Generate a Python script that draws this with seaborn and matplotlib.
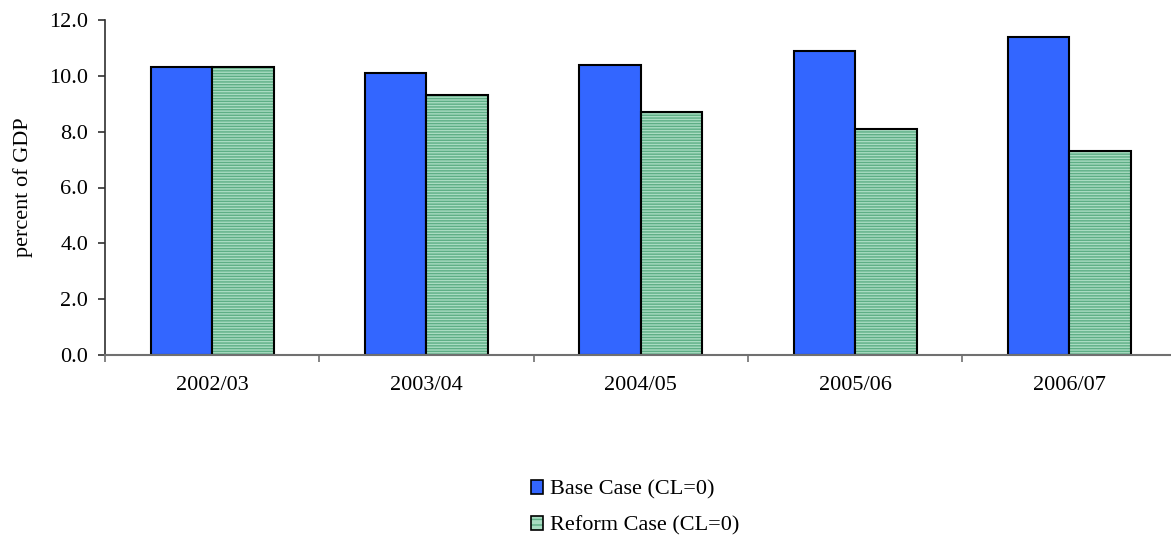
import matplotlib
matplotlib.use("Agg")
import matplotlib.pyplot as plt
import seaborn as sns
import pandas as pd
from matplotlib.patches import Patch, Rectangle
from matplotlib.legend_handler import HandlerTuple
from matplotlib.ticker import FixedLocator

# Data
years = ["2002/03", "2003/04", "2004/05", "2005/06", "2006/07"]
base_case = [10.3, 10.1, 10.4, 10.9, 11.4]
reform_case = [10.3, 9.3, 8.7, 8.1, 7.3]
series_names = ["Base Case (CL=0)", "Reform Case (CL=0)"]
y_ticks = [0, 2, 4, 6, 8, 10, 12]

BLUE = "#3366FF"
GREEN_FILL = "#a9dcc2"
GREEN_LINE = "#5dae85"

sns.set_theme(style="white")
plt.rcParams["font.family"] = ["Liberation Serif", "DejaVu Serif"]
plt.rcParams["hatch.linewidth"] = 1.0
plt.rcParams["text.color"] = "black"
plt.rcParams["axes.labelcolor"] = "black"
plt.rcParams["xtick.color"] = "black"
plt.rcParams["ytick.color"] = "black"

df = pd.DataFrame({
    "year": years * 2,
    "value": base_case + reform_case,
    "series": [series_names[0]] * len(years) + [series_names[1]] * len(years),
})

fig = plt.figure(figsize=(11.71, 5.38), dpi=100)
ax = fig.add_axes([105 / 1171, 1 - 355 / 538, 1071.5 / 1171, 335 / 538])

sns.barplot(data=df, x="year", y="value", hue="series", order=years,
            hue_order=series_names, palette=[BLUE, GREEN_FILL], saturation=1,
            width=0.574, gap=0, edgecolor="black", linewidth=1.5,
            legend=False, ax=ax)

# Reform bars: fine green horizontal lines, then a black outline on top
for bar in ax.containers[1]:
    bar.set_hatch("------")
    bar.set_edgecolor(GREEN_LINE)
    bar.set_linewidth(0)
    ax.add_patch(Rectangle(bar.get_xy(), bar.get_width(), bar.get_height(),
                           fill=False, edgecolor="black", linewidth=1.5,
                           zorder=bar.get_zorder() + 0.1))

ax.set_xlim(-0.5, len(years) - 0.5)
ax.set_ylim(0, 12)
ax.set_yticks(y_ticks)
ax.set_yticklabels([f"{v:.1f}" for v in y_ticks])
ax.set_xlabel("")
ax.set_ylabel("percent of GDP", fontsize=16, labelpad=12, color="black")

# Category separators as outward ticks on the x axis
ax.xaxis.set_minor_locator(FixedLocator([i - 0.5 for i in range(len(years) + 1)]))
ax.tick_params(axis="x", which="major", length=0, pad=15, labelsize=16,
               labelcolor="black")
ax.tick_params(axis="x", which="minor", bottom=True, length=5, width=1.2,
               color="#707070", direction="out")
ax.tick_params(axis="y", which="major", left=True, length=5, width=1.2,
               color="#303030", direction="out", pad=7, labelsize=16,
               labelcolor="black")

for side in ["top", "right"]:
    ax.spines[side].set_visible(False)
ax.spines["left"].set_color("#303030")
ax.spines["left"].set_linewidth(1.2)
ax.spines["bottom"].set_color("#707070")
ax.spines["bottom"].set_linewidth(1.5)

# Legend below the plot
h_base = Patch(facecolor=BLUE, edgecolor="black", linewidth=1.2)
h_reform = (Patch(facecolor=GREEN_FILL, edgecolor=GREEN_LINE, hatch="---", linewidth=0),
            Patch(fill=False, edgecolor="black", linewidth=1.2))
fig.legend([h_base, h_reform], series_names,
           handler_map={tuple: HandlerTuple(ndivide=1)},
           loc="center", bbox_to_anchor=(635 / 1171, 1 - 508 / 538),
           frameon=False, fontsize=16, handlelength=0.55, handleheight=0.55,
           handletextpad=0.3, labelspacing=0.75, borderpad=0.2)

fig.savefig("out.png", dpi=100)
